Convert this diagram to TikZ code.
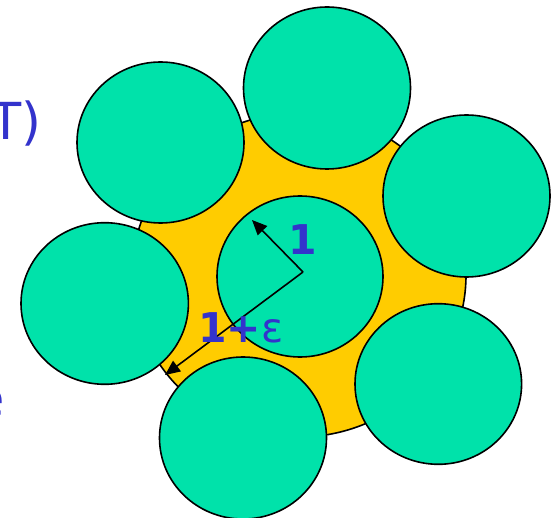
\documentclass[tikz,border=0pt]{standalone}
\usepackage{fontspec}
\setmainfont{DejaVu Sans}
\usetikzlibrary{arrows.meta}
\definecolor{ball}{RGB}{0,226,170}
\definecolor{gold}{RGB}{255,204,0}
\definecolor{ink}{RGB}{51,51,204}
\begin{document}
\begin{tikzpicture}[x=1pt,y=-1pt,
  disc/.style={draw=black, line width=1.6pt, fill=ball},
  golddisc/.style={draw=black, line width=1.6pt, fill=gold},
  arr/.style={draw=black, line width=1.6pt, -{Triangle[length=15pt,width=13pt]}},
  bluetext/.style={text=ink, inner sep=0pt, font=\fontsize{51}{51}\selectfont},
  numlabel/.style={text=ink, inner sep=0pt, font=\bfseries\fontsize{41}{41}\selectfont}]
\useasboundingbox (0,0) rectangle (559,518);
\clip (0,0) rectangle (559,518);
\fill[white] (0,0) rectangle (559,518);
% left margin text (partly cut off)
\node[bluetext, anchor=base west] (tlab) at (-10,140) {T)};
\node[bluetext, anchor=base west] (elab) at (-27,416) {e};
% gold disc of radius 1+eps
\draw[golddisc] (299,275) ellipse [x radius=167pt, y radius=162pt];
% central ball
\draw[disc] (300,276.5) ellipse [x radius=83pt, y radius=80.5pt];
% surrounding balls
\draw[disc] (327,88) ellipse [x radius=83.5pt, y radius=81pt];
\draw[disc] (160.5,142.5) ellipse [x radius=83.5pt, y radius=80.5pt];
\draw[disc] (466.5,196) ellipse [x radius=83.5pt, y radius=81pt];
\draw[disc] (104.7,303.5) ellipse [x radius=83.7pt, y radius=80.8pt];
\draw[disc] (438.3,384) ellipse [x radius=83.3pt, y radius=80.3pt];
\draw[disc] (243,438) ellipse [x radius=83.5pt, y radius=81pt];
% radii
\coordinate (o) at (303,272);
\coordinate (t1) at (252,220);
\coordinate (t2) at (165,375);
\draw[arr] (o) -- (t1);
\draw[arr] (o) -- (t2);
\node[numlabel, anchor=base] (one) at (302.5,255) {1};
\node[numlabel, anchor=base west] (oneeps) at (198,342) {1+{\mdseries ε}};
\end{tikzpicture}
\end{document}
